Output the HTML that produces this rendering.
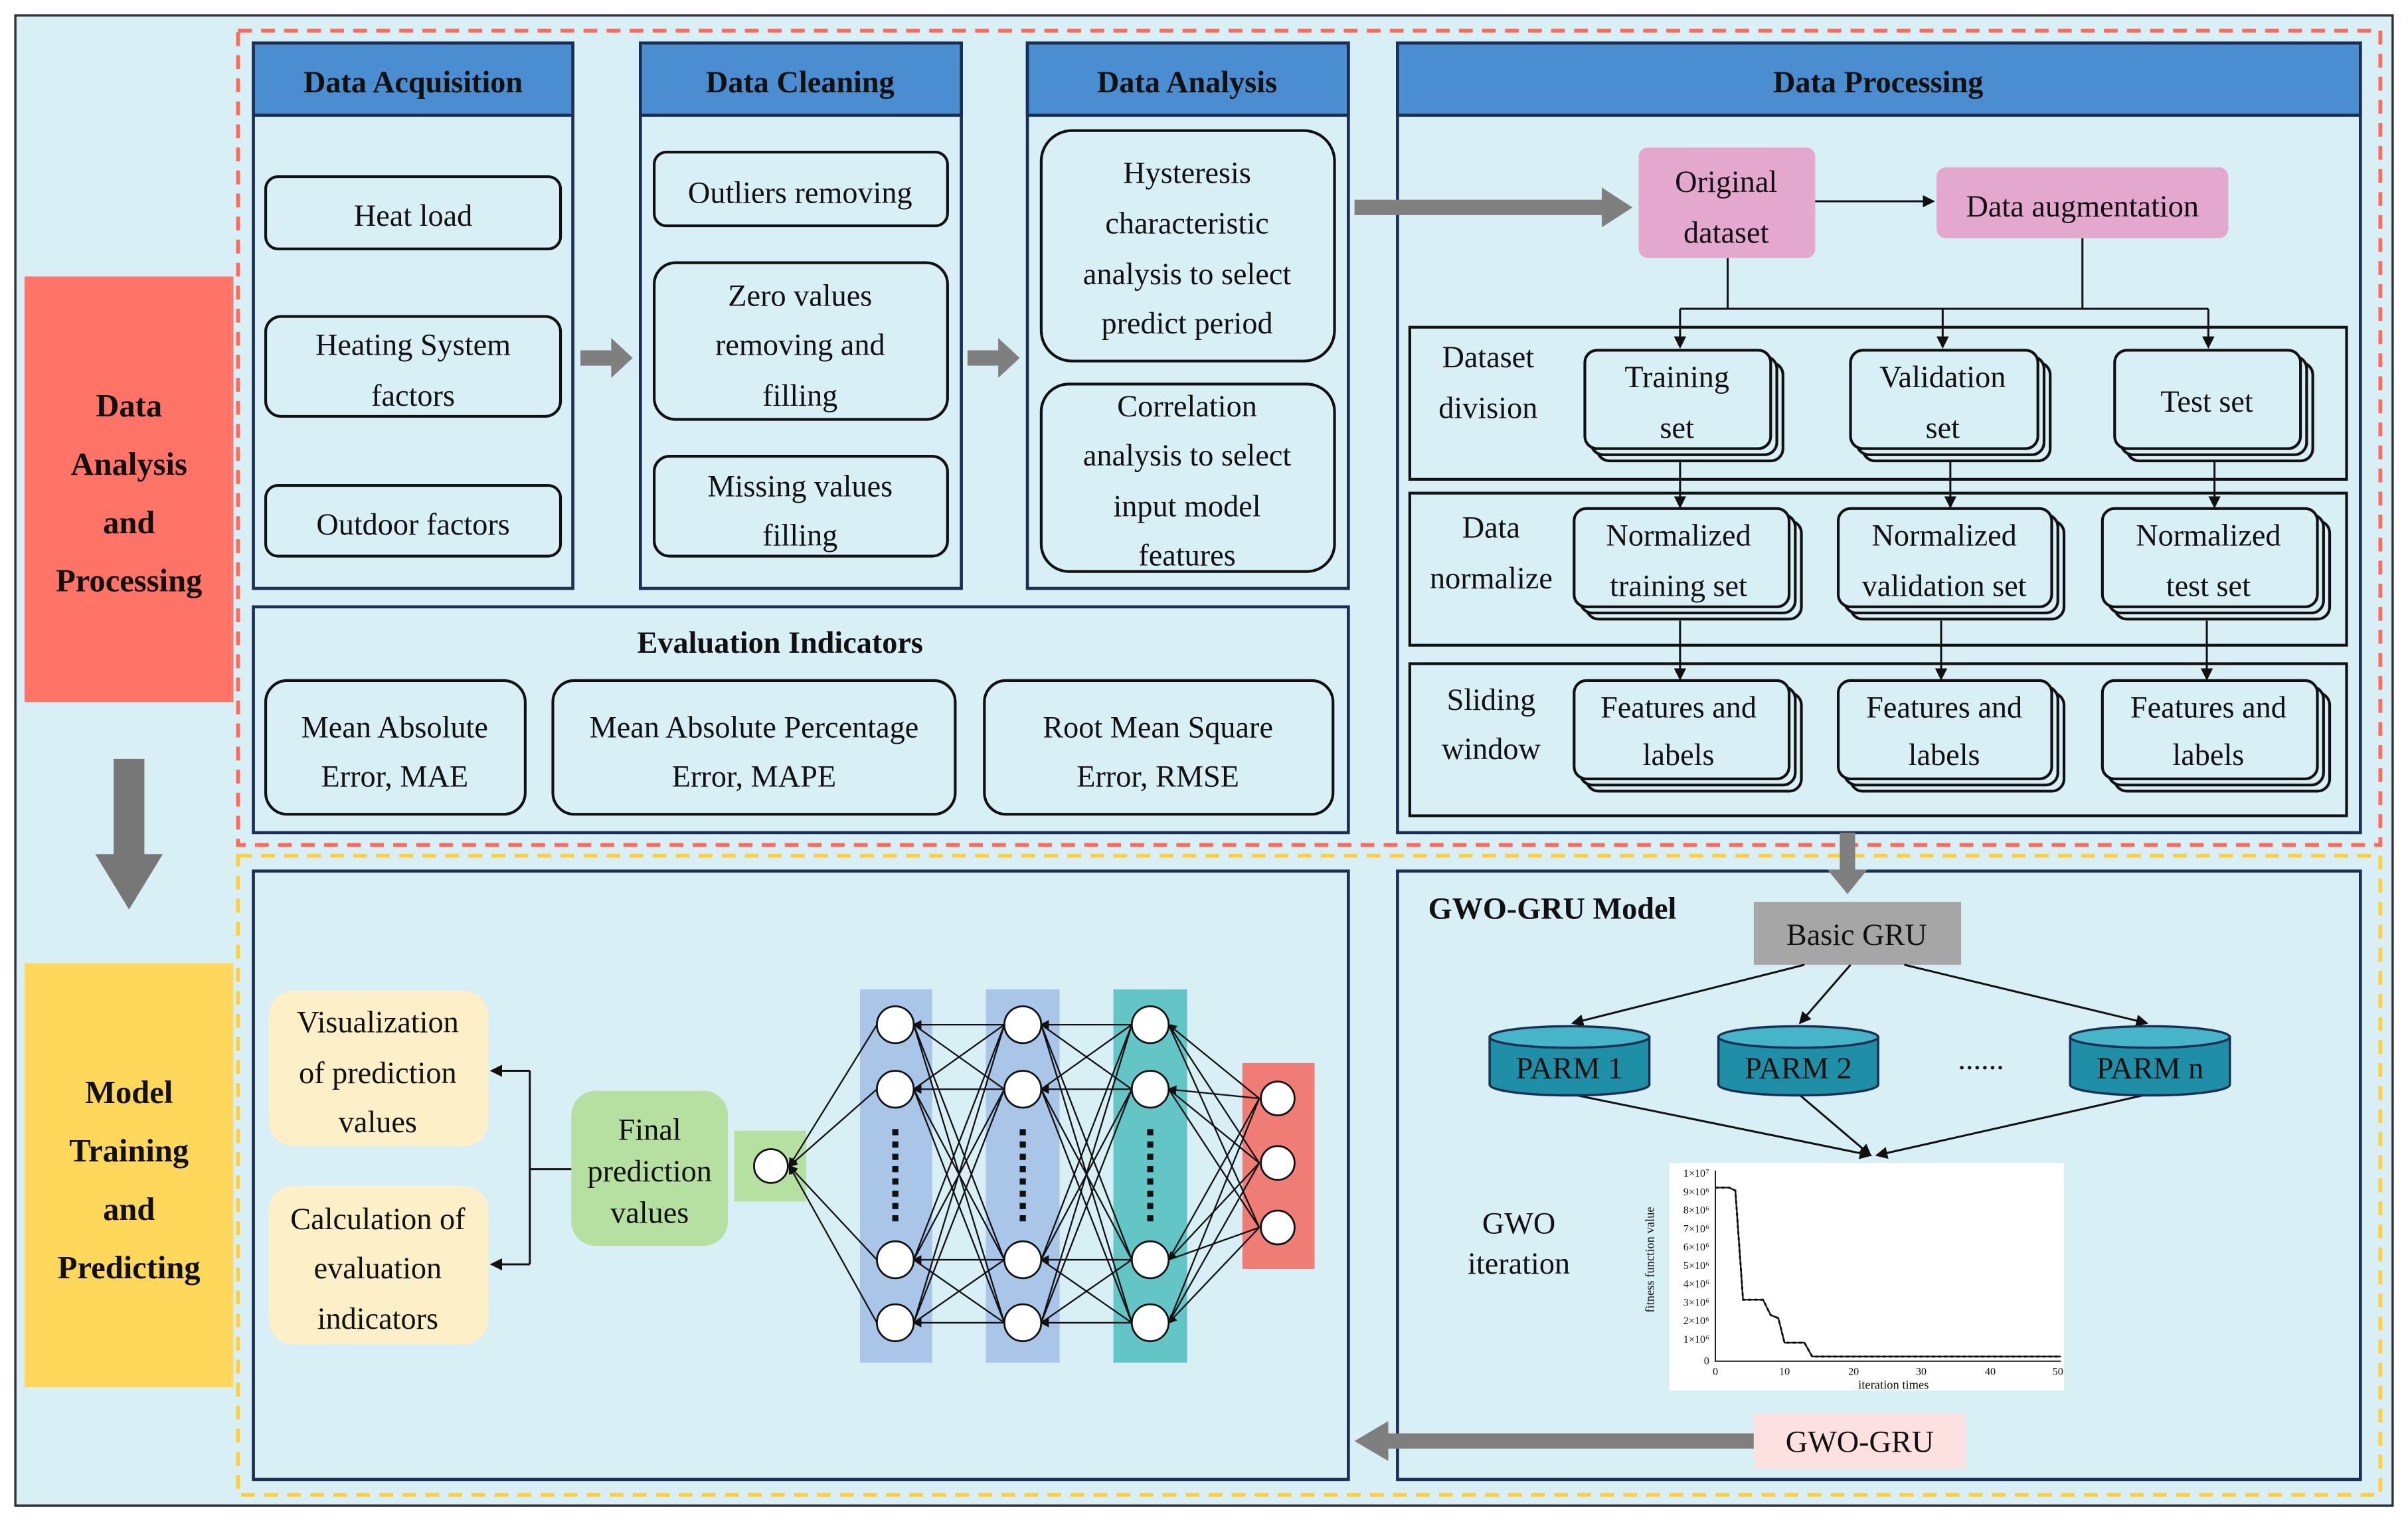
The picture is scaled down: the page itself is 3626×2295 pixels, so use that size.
<!DOCTYPE html>
<html><head><meta charset="utf-8"><style>
html,body{margin:0;padding:0;background:#fff}
svg{display:block}
svg text{font-family:"Liberation Serif","Times New Roman","DejaVu Serif",serif !important;fill:#111}
.h{font-weight:bold;font-size:20px;font-family:"Liberation Serif","DejaVu Serif",serif}
.t{font-size:20px;font-family:"Liberation Serif","DejaVu Serif",serif}
</style></head><body>
<svg width="3626" height="2295" viewBox="0 0 1568 992" preserveAspectRatio="none" xmlns="http://www.w3.org/2000/svg" font-family="Liberation Serif, DejaVu Serif, serif">
<defs>
<marker id="a" markerWidth="8" markerHeight="8" refX="7" refY="4" orient="auto" markerUnits="userSpaceOnUse"><path d="M0,0 L8,4 L0,8z" fill="#111"/></marker>
<marker id="s" markerWidth="6" markerHeight="6" refX="5" refY="3" orient="auto" markerUnits="userSpaceOnUse"><path d="M0,0 L6,3 L0,6z" fill="#111"/></marker>
</defs>
<rect x="10" y="10" width="1548" height="970" fill="#d8eff5" stroke="#333" stroke-width="1.5"/>
<rect x="155" y="20" width="1395" height="530" fill="none" stroke="#ff6a5a" stroke-width="2.5" stroke-dasharray="9,6"/>
<rect x="155" y="557" width="1395" height="416" fill="none" stroke="#ffcf40" stroke-width="2.5" stroke-dasharray="9,6"/>

<rect x="16" y="180" width="136" height="277" fill="#ff7466"/>
<text class="h" style="font-size:21px" text-anchor="middle" x="84" y="271">Data</text>
<text class="h" style="font-size:21px" text-anchor="middle" x="84" y="309">Analysis</text>
<text class="h" style="font-size:21px" text-anchor="middle" x="84" y="347">and</text>
<text class="h" style="font-size:21px" text-anchor="middle" x="84" y="385">Processing</text>
<rect x="16" y="627" width="136" height="276" fill="#ffd75a"/>
<text class="h" style="font-size:21px" text-anchor="middle" x="84" y="718">Model</text>
<text class="h" style="font-size:21px" text-anchor="middle" x="84" y="756">Training</text>
<text class="h" style="font-size:21px" text-anchor="middle" x="84" y="794">and</text>
<text class="h" style="font-size:21px" text-anchor="middle" x="84" y="832">Predicting</text>
<path d="M74,494 H94 V556 H106 L84,592 L62,556 H74z" fill="#777"/>

<g fill="none" stroke="#1b2f55" stroke-width="2">
<rect x="165" y="28" width="208" height="355"/>
<rect x="417" y="28" width="209" height="355"/>
<rect x="669" y="28" width="209" height="355"/>
<rect x="910" y="28" width="627" height="514"/>
<rect x="165" y="395" width="713" height="147"/>
<rect x="165" y="567" width="713" height="396"/>
<rect x="910" y="567" width="627" height="396"/>
</g>
<g fill="#4a8dd0" stroke="#1b2f55" stroke-width="2">
<rect x="165" y="28" width="208" height="47"/>
<rect x="417" y="28" width="209" height="47"/>
<rect x="669" y="28" width="209" height="47"/>
<rect x="910" y="28" width="627" height="47"/>
</g>
<text class="h" text-anchor="middle" x="269" y="60">Data Acquisition</text>
<text class="h" text-anchor="middle" x="521" y="60">Data Cleaning</text>
<text class="h" text-anchor="middle" x="773" y="60">Data Analysis</text>
<text class="h" text-anchor="middle" x="1223" y="60">Data Processing</text>

<g fill="none" stroke="#111" stroke-width="1.8">
<rect x="173" y="115" width="192" height="47" rx="8"/>
<rect x="173" y="206" width="192" height="65" rx="10"/>
<rect x="173" y="316" width="192" height="46" rx="8"/>
<rect x="426" y="99" width="191" height="48" rx="8"/>
<rect x="426" y="171" width="191" height="102" rx="14"/>
<rect x="426" y="297" width="191" height="65" rx="10"/>
<rect x="678" y="85" width="191" height="150" rx="20"/>
<rect x="678" y="250" width="191" height="122" rx="18"/>
<rect x="173" y="443" width="169" height="87" rx="14"/>
<rect x="360" y="443" width="262" height="87" rx="14"/>
<rect x="641" y="443" width="227" height="87" rx="14"/>
</g>
<text class="t" x="269" y="147" text-anchor="middle">Heat load</text>
<text class="t" x="269" y="231" text-anchor="middle">Heating System</text>
<text class="t" x="269" y="264" text-anchor="middle">factors</text>
<text class="t" x="269" y="348" text-anchor="middle">Outdoor factors</text>
<text class="t" x="521" y="132" text-anchor="middle">Outliers removing</text>
<text class="t" x="521" y="199" text-anchor="middle">Zero values</text>
<text class="t" x="521" y="231" text-anchor="middle">removing and</text>
<text class="t" x="521" y="264" text-anchor="middle">filling</text>
<text class="t" x="521" y="323" text-anchor="middle">Missing values</text>
<text class="t" x="521" y="355" text-anchor="middle">filling</text>
<text class="t" x="773" y="119" text-anchor="middle">Hysteresis</text>
<text class="t" x="773" y="152" text-anchor="middle">characteristic</text>
<text class="t" x="773" y="185" text-anchor="middle">analysis to select</text>
<text class="t" x="773" y="217" text-anchor="middle">predict period</text>
<text class="t" x="773" y="271" text-anchor="middle">Correlation</text>
<text class="t" x="773" y="303" text-anchor="middle">analysis to select</text>
<text class="t" x="773" y="336" text-anchor="middle">input model</text>
<text class="t" x="773" y="368" text-anchor="middle">features</text>
<text class="h" x="508" y="425" text-anchor="middle">Evaluation Indicators</text>
<text class="t" x="257" y="480" text-anchor="middle">Mean Absolute</text>
<text class="t" x="257" y="512" text-anchor="middle">Error, MAE</text>
<text class="t" x="491" y="480" text-anchor="middle">Mean Absolute Percentage</text>
<text class="t" x="491" y="512" text-anchor="middle">Error, MAPE</text>
<text class="t" x="754" y="480" text-anchor="middle">Root Mean Square</text>
<text class="t" x="754" y="512" text-anchor="middle">Error, RMSE</text>
<g fill="#7f7f7f">
<path d="M378,228 H398 V220 L412,233 L398,246 V238 H378z"/>
<path d="M630,228 H650 V220 L664,233 L650,246 V238 H630z"/>
<path d="M882,130 H1043 V122 L1063,135 L1043,148 V140 H882z"/>
<path d="M1198,542 H1208 V566 H1216 L1203,582 L1190,566 H1198z"/>
<path d="M1142,933 H904 V925 L882,938 L904,951 V943 H1142z"/>
</g>

<rect x="1067" y="96" width="115" height="72" rx="6" fill="#e4a8cf"/>
<text class="t" x="1124" y="125" text-anchor="middle">Original</text>
<text class="t" x="1124" y="158" text-anchor="middle">dataset</text>
<rect x="1261" y="109" width="190" height="46" rx="6" fill="#e4a8cf"/>
<text class="t" x="1356" y="141" text-anchor="middle">Data augmentation</text>
<g stroke="#111" stroke-width="1.3" fill="none">
<line x1="1182" y1="131" x2="1259" y2="131" marker-end="url(#a)"/>
<polyline points="1125,168 1125,201"/><polyline points="1356,155 1356,201"/>
<line x1="1094" y1="201" x2="1438" y2="201"/>
<line x1="1094" y1="201" x2="1094" y2="226" marker-end="url(#a)"/>
<line x1="1265" y1="201" x2="1265" y2="226" marker-end="url(#a)"/>
<line x1="1438" y1="201" x2="1438" y2="226" marker-end="url(#a)"/>
<line x1="1094" y1="300" x2="1094" y2="330" marker-end="url(#a)"/>
<line x1="1270" y1="300" x2="1270" y2="330" marker-end="url(#a)"/>
<line x1="1442" y1="300" x2="1442" y2="330" marker-end="url(#a)"/>
<line x1="1094" y1="404" x2="1094" y2="442" marker-end="url(#a)"/>
<line x1="1264" y1="404" x2="1264" y2="442" marker-end="url(#a)"/>
<line x1="1437" y1="404" x2="1437" y2="442" marker-end="url(#a)"/>
</g>
<g fill="none" stroke="#111" stroke-width="1.8">
<rect x="918" y="213" width="610" height="99"/>
<rect x="918" y="321" width="610" height="99"/>
<rect x="918" y="432" width="610" height="99"/>
</g>
<text class="t" x="969" y="239" text-anchor="middle">Dataset</text>
<text class="t" x="969" y="272" text-anchor="middle">division</text>
<text class="t" x="971" y="350" text-anchor="middle">Data</text>
<text class="t" x="971" y="383" text-anchor="middle">normalize</text>
<text class="t" x="971" y="462" text-anchor="middle">Sliding</text>
<text class="t" x="971" y="494" text-anchor="middle">window</text>

<g fill="#d8eff5" stroke="#111" stroke-width="1.8">
<rect x="1040" y="236" width="121" height="64" rx="8"/><rect x="1036" y="232" width="121" height="64" rx="8"/><rect x="1032" y="228" width="121" height="64" rx="8"/>
<rect x="1213" y="236" width="122" height="64" rx="8"/><rect x="1209" y="232" width="122" height="64" rx="8"/><rect x="1205" y="228" width="122" height="64" rx="8"/>
<rect x="1385" y="236" width="121" height="64" rx="8"/><rect x="1381" y="232" width="121" height="64" rx="8"/><rect x="1377" y="228" width="121" height="64" rx="8"/>
<rect x="1033" y="339" width="140" height="64" rx="8"/><rect x="1029" y="335" width="140" height="64" rx="8"/><rect x="1025" y="331" width="140" height="64" rx="8"/>
<rect x="1205" y="339" width="139" height="64" rx="8"/><rect x="1201" y="335" width="139" height="64" rx="8"/><rect x="1197" y="331" width="139" height="64" rx="8"/>
<rect x="1377" y="339" width="140" height="64" rx="8"/><rect x="1373" y="335" width="140" height="64" rx="8"/><rect x="1369" y="331" width="140" height="64" rx="8"/>
<rect x="1033" y="451" width="140" height="64" rx="8"/><rect x="1029" y="447" width="140" height="64" rx="8"/><rect x="1025" y="443" width="140" height="64" rx="8"/>
<rect x="1205" y="451" width="139" height="64" rx="8"/><rect x="1201" y="447" width="139" height="64" rx="8"/><rect x="1197" y="443" width="139" height="64" rx="8"/>
<rect x="1377" y="451" width="140" height="64" rx="8"/><rect x="1373" y="447" width="140" height="64" rx="8"/><rect x="1369" y="443" width="140" height="64" rx="8"/>
</g>
<text class="t" x="1092" y="252" text-anchor="middle">Training</text>
<text class="t" x="1092" y="285" text-anchor="middle">set</text>
<text class="t" x="1265" y="252" text-anchor="middle">Validation</text>
<text class="t" x="1265" y="285" text-anchor="middle">set</text>
<text class="t" x="1437" y="268" text-anchor="middle">Test set</text>
<text class="t" x="1093" y="355" text-anchor="middle">Normalized</text>
<text class="t" x="1093" y="388" text-anchor="middle">training set</text>
<text class="t" x="1266" y="355" text-anchor="middle">Normalized</text>
<text class="t" x="1266" y="388" text-anchor="middle">validation set</text>
<text class="t" x="1438" y="355" text-anchor="middle">Normalized</text>
<text class="t" x="1438" y="388" text-anchor="middle">test set</text>
<text class="t" x="1093" y="467" text-anchor="middle">Features and</text>
<text class="t" x="1093" y="498" text-anchor="middle">labels</text>
<text class="t" x="1266" y="467" text-anchor="middle">Features and</text>
<text class="t" x="1266" y="498" text-anchor="middle">labels</text>
<text class="t" x="1438" y="467" text-anchor="middle">Features and</text>
<text class="t" x="1438" y="498" text-anchor="middle">labels</text>

<rect x="175" y="645" width="143" height="101" rx="16" fill="#fdefc7"/>
<text class="t" x="246" y="672" text-anchor="middle">Visualization</text>
<text class="t" x="246" y="705" text-anchor="middle">of prediction</text>
<text class="t" x="246" y="737" text-anchor="middle">values</text>
<rect x="175" y="772" width="143" height="103" rx="16" fill="#fdefc7"/>
<text class="t" x="246" y="800" text-anchor="middle">Calculation of</text>
<text class="t" x="246" y="832" text-anchor="middle">evaluation</text>
<text class="t" x="246" y="865" text-anchor="middle">indicators</text>
<rect x="372" y="710" width="102" height="101" rx="16" fill="#b6e0a2"/>
<text class="t" x="423" y="742" text-anchor="middle">Final</text>
<text class="t" x="423" y="769" text-anchor="middle">prediction</text>
<text class="t" x="423" y="796" text-anchor="middle">values</text>
<g stroke="#111" stroke-width="1.3" fill="none">
<polyline points="372,761 345,761"/><line x1="345" y1="697" x2="345" y2="823"/>
<line x1="345" y1="697" x2="320" y2="697" marker-end="url(#a)"/>
<line x1="345" y1="823" x2="320" y2="823" marker-end="url(#a)"/>
</g>
<rect x="478" y="736" width="47" height="46" fill="#b6e0a2"/>
<rect x="560" y="644" width="47" height="243" fill="#a9c6e9"/>
<rect x="642" y="644" width="48" height="243" fill="#a9c6e9"/>
<rect x="725" y="644" width="48" height="243" fill="#63c5c5"/>
<rect x="809" y="692" width="47" height="134" fill="#f07d75"/>
<g stroke="#111" stroke-width="1" fill="none">
<line x1="571" y1="667" x2="514" y2="759" marker-end="url(#s)"/>
<line x1="571" y1="709" x2="514" y2="759" marker-end="url(#s)"/>
<line x1="571" y1="820" x2="514" y2="759" marker-end="url(#s)"/>
<line x1="571" y1="861" x2="514" y2="759" marker-end="url(#s)"/>
<g id="fc1">
<line x1="654" y1="667" x2="595" y2="667" marker-end="url(#s)"/><line x1="654" y1="667" x2="595" y2="709"/><line x1="654" y1="667" x2="595" y2="820"/><line x1="654" y1="667" x2="595" y2="861"/>
<line x1="654" y1="709" x2="595" y2="667"/><line x1="654" y1="709" x2="595" y2="709" marker-end="url(#s)"/><line x1="654" y1="709" x2="595" y2="820"/><line x1="654" y1="709" x2="595" y2="861"/>
<line x1="654" y1="820" x2="595" y2="667"/><line x1="654" y1="820" x2="595" y2="709"/><line x1="654" y1="820" x2="595" y2="820" marker-end="url(#s)"/><line x1="654" y1="820" x2="595" y2="861"/>
<line x1="654" y1="861" x2="595" y2="667"/><line x1="654" y1="861" x2="595" y2="709"/><line x1="654" y1="861" x2="595" y2="820"/><line x1="654" y1="861" x2="595" y2="861" marker-end="url(#s)"/>
</g>
<use href="#fc1" transform="translate(83,0)"/>
<line x1="820" y1="715" x2="761" y2="667" marker-end="url(#s)"/><line x1="820" y1="715" x2="761" y2="709" marker-end="url(#s)"/><line x1="820" y1="715" x2="761" y2="820"/><line x1="820" y1="715" x2="761" y2="861"/>
<line x1="820" y1="757" x2="761" y2="667"/><line x1="820" y1="757" x2="761" y2="709"/><line x1="820" y1="757" x2="761" y2="820" marker-end="url(#s)"/><line x1="820" y1="757" x2="761" y2="861"/>
<line x1="820" y1="799" x2="761" y2="667"/><line x1="820" y1="799" x2="761" y2="709"/><line x1="820" y1="799" x2="761" y2="820"/><line x1="820" y1="799" x2="761" y2="861" marker-end="url(#s)"/>
</g>
<g fill="#fff" stroke="#111" stroke-width="1.2">
<circle cx="502" cy="759" r="11"/>
<circle cx="583" cy="667" r="12"/><circle cx="583" cy="709" r="12"/><circle cx="583" cy="820" r="12"/><circle cx="583" cy="861" r="12"/>
<circle cx="666" cy="667" r="12"/><circle cx="666" cy="709" r="12"/><circle cx="666" cy="820" r="12"/><circle cx="666" cy="861" r="12"/>
<circle cx="749" cy="667" r="12"/><circle cx="749" cy="709" r="12"/><circle cx="749" cy="820" r="12"/><circle cx="749" cy="861" r="12"/>
<circle cx="832" cy="715" r="11"/><circle cx="832" cy="757" r="11"/><circle cx="832" cy="799" r="11"/>
</g>
<g stroke="#111" stroke-width="4" stroke-dasharray="4,4">
<line x1="583" y1="735" x2="583" y2="795"/><line x1="666" y1="735" x2="666" y2="795"/><line x1="749" y1="735" x2="749" y2="795"/>
</g>

<text class="h" x="930" y="598">GWO-GRU Model</text>
<rect x="1142" y="587" width="135" height="41" fill="#a6a6a6"/>
<text class="t" x="1209" y="615" text-anchor="middle">Basic GRU</text>
<g stroke="#111" stroke-width="1.3" fill="none">
<line x1="1175" y1="628" x2="1024" y2="666" marker-end="url(#a)"/>
<line x1="1205" y1="628" x2="1172" y2="666" marker-end="url(#a)"/>
<line x1="1240" y1="628" x2="1398" y2="666" marker-end="url(#a)"/>
<line x1="1022" y1="712" x2="1218" y2="752" marker-end="url(#a)"/>
<line x1="1171" y1="712" x2="1218" y2="752" marker-end="url(#a)"/>
<line x1="1400" y1="712" x2="1222" y2="752" marker-end="url(#a)"/>
</g>
<g stroke="#1b2f55" stroke-width="1.5">
<path d="M970,675 V706 A52,7 0 0 0 1074,706 V675z" fill="#1f8fa8"/><ellipse cx="1022" cy="675" rx="52" ry="7" fill="#47b5c9"/>
<path d="M1119,675 V706 A52,7 0 0 0 1223,706 V675z" fill="#1f8fa8"/><ellipse cx="1171" cy="675" rx="52" ry="7" fill="#47b5c9"/>
<path d="M1348,675 V706 A52,7 0 0 0 1452,706 V675z" fill="#1f8fa8"/><ellipse cx="1400" cy="675" rx="52" ry="7" fill="#47b5c9"/>
</g>
<text class="t" x="1022" y="702" text-anchor="middle">PARM 1</text>
<text class="t" x="1171" y="702" text-anchor="middle">PARM 2</text>
<text class="t" x="1400" y="702" text-anchor="middle">PARM n</text>
<text class="t" x="1290" y="696" text-anchor="middle">......</text>
<text class="t" x="989" y="803" text-anchor="middle">GWO</text>
<text class="t" x="989" y="829" text-anchor="middle">iteration</text>
<rect x="1087" y="757" width="257" height="148" fill="#fff"/>
<polyline points="1117,762 1117,886 1342,886" stroke="#111" stroke-width="0.8" fill="none"/>
<g style="font-size:7px">
<text x="1113" y="888" text-anchor="end" style="font-size:7px">0</text>
<text x="1113" y="766" text-anchor="end" style="font-size:7px">1×10⁷</text>
<text x="1113" y="778" text-anchor="end" style="font-size:7px">9×10⁶</text>
<text x="1113" y="790" text-anchor="end" style="font-size:7px">8×10⁶</text>
<text x="1113" y="802" text-anchor="end" style="font-size:7px">7×10⁶</text>
<text x="1113" y="814" text-anchor="end" style="font-size:7px">6×10⁶</text>
<text x="1113" y="826" text-anchor="end" style="font-size:7px">5×10⁶</text>
<text x="1113" y="838" text-anchor="end" style="font-size:7px">4×10⁶</text>
<text x="1113" y="850" text-anchor="end" style="font-size:7px">3×10⁶</text>
<text x="1113" y="862" text-anchor="end" style="font-size:7px">2×10⁶</text>
<text x="1113" y="874" text-anchor="end" style="font-size:7px">1×10⁶</text>
<text x="1117" y="895" text-anchor="middle" style="font-size:7px">0</text>
<text x="1162" y="895" text-anchor="middle" style="font-size:7px">10</text>
<text x="1207" y="895" text-anchor="middle" style="font-size:7px">20</text>
<text x="1251" y="895" text-anchor="middle" style="font-size:7px">30</text>
<text x="1296" y="895" text-anchor="middle" style="font-size:7px">40</text>
<text x="1340" y="895" text-anchor="middle" style="font-size:7px">50</text>
<text x="1233" y="904" text-anchor="middle" style="font-size:8px">iteration times</text>
<text x="1077" y="820" text-anchor="middle" transform="rotate(-90 1077 820)" style="font-size:8px">fitness function value</text>
</g>
<polyline fill="none" stroke="#111" stroke-width="1.3" stroke-dasharray="2,2" points="1117,773 1126,773 1130,775 1135,846 1148,846 1153,856 1158,858 1162,874 1175,874 1180,883 1342,883"/>
<polyline fill="none" stroke="#111" stroke-width="1" points="1117,773 1126,773 1130,775 1135,846 1148,846 1153,856 1158,858 1162,874 1175,874 1180,883 1342,883"/>

<rect x="1142" y="920" width="138" height="36" fill="#fde0e0"/>
<text class="t" x="1211" y="945" text-anchor="middle">GWO-GRU</text>
</svg>
</body></html>
